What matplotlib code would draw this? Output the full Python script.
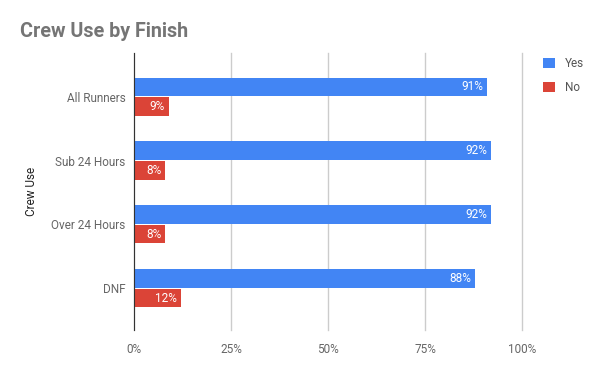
import numpy as np
import matplotlib as mpl
mpl.use('Agg')
import matplotlib.pyplot as plt
from matplotlib.patches import Patch

categories = ['All Runners', 'Sub 24 Hours', 'Over 24 Hours', 'DNF']
yes_pct = [91, 92, 92, 88]
no_pct = [9, 8, 8, 12]
series_names = ['Yes', 'No']
colors = ['#4285F4', '#DB4437']

plt.rcParams['font.family'] = ['Roboto', 'DejaVu Sans']

fig = plt.figure(figsize=(6, 3.71), dpi=100)
ax = fig.add_axes([0.2233, 0.1105, 0.6467, 0.7465])

y = np.arange(len(categories))
h = 0.285
off = 0.155
bars_yes = ax.barh(y - off, yes_pct, height=h, color=colors[0], zorder=3)
bars_no = ax.barh(y + off, no_pct, height=h, color=colors[1], zorder=3)

# value labels inside bar ends
for bars, vals in ((bars_yes, yes_pct), (bars_no, no_pct)):
    for b, v in zip(bars, vals):
        ax.text(b.get_width() - 1.0, b.get_y() + b.get_height() / 2, '%d%%' % v,
                ha='right', va='center', color='white', fontsize=8.5, zorder=4)

ax.set_xlim(0, 100)
ax.set_ylim(3.65, -0.68)
ax.set_xticks([0, 25, 50, 75, 100])
ax.set_xticklabels(['0%', '25%', '50%', '75%', '100%'])
ax.set_yticks(y)
ax.set_yticklabels(categories)
ax.tick_params(length=0, colors='#666666', labelsize=8.5)
ax.tick_params(axis='x', pad=9)
ax.tick_params(axis='y', pad=6)
ax.grid(axis='x', color='#cccccc', linewidth=1, zorder=0)
for gl in ax.get_xgridlines():
    gl.set_clip_on(False)
for s in ['top', 'right', 'bottom']:
    ax.spines[s].set_visible(False)
ax.spines['left'].set_color('#333333')
ax.spines['left'].set_zorder(5)

ax.set_ylabel('Crew Use', fontsize=8.5, color='#222222', labelpad=10)

fig.text(0.033, 0.915, 'Crew Use by Finish', fontsize=14.2, fontweight='bold',
         color='#757575', ha='left', va='center')

handles = [Patch(facecolor=c, label=n) for c, n in zip(colors, series_names)]
fig.legend(handles=handles, loc='upper left', bbox_to_anchor=(0.888, 0.875),
           frameon=False, fontsize=8.5, labelcolor='#555555', handlelength=1.0,
           handleheight=1.0, labelspacing=0.95, handletextpad=0.8)

fig.savefig('out.png', dpi=100)
